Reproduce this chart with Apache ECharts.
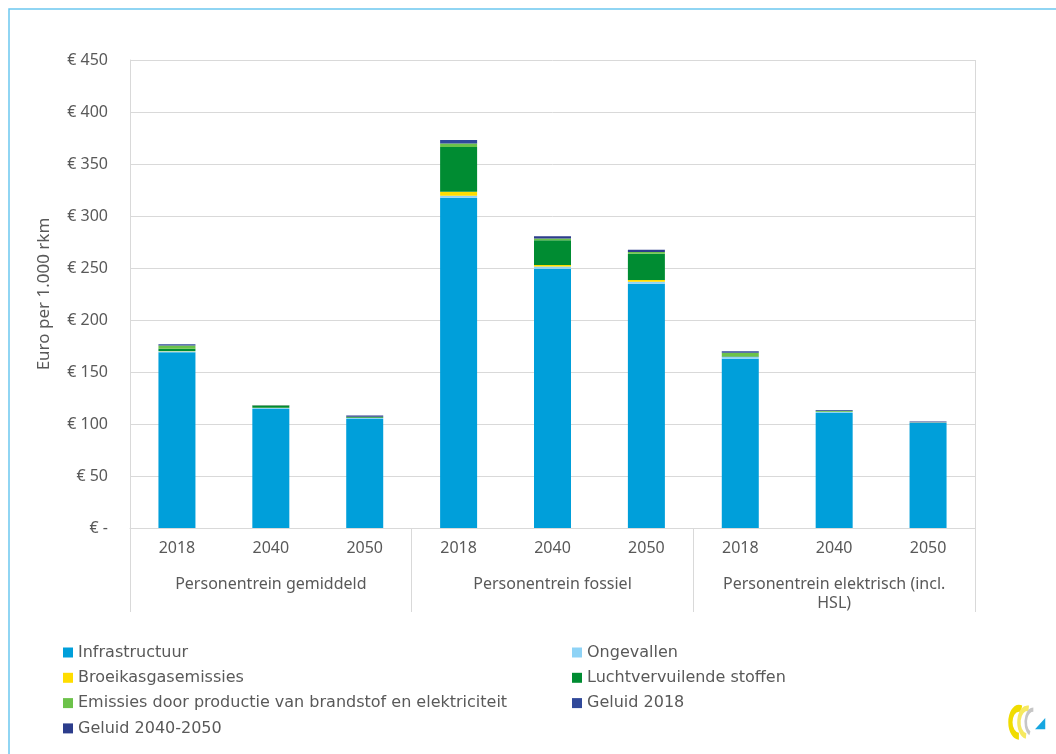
<!DOCTYPE html>
<html>
<head>
<meta charset="utf-8">
<script src="https://cdn.jsdelivr.net/npm/echarts@6/dist/echarts.min.js"></script>
<style>
  html, body { margin: 0; padding: 0; background: #ffffff; }
  #chart { width: 1056px; height: 754px; }
</style>
</head>
<body>
<div id="chart"></div>
<script>
// Kosten per 1.000 reizigerskilometer, per treintype en zichtjaar
const years = ['2018', '2040', '2050', '2018', '2040', '2050', '2018', '2040', '2050'];
const groups = ['Personentrein gemiddeld', 'Personentrein fossiel', 'Personentrein elektrisch (incl.\nHSL)'];
const yTicks = [0, 50, 100, 150, 200, 250, 300, 350, 400, 450];

const infrastructuur = [169, 114.5, 104.8, 317.6, 249.3, 234.9, 162.8, 110.6, 101];
const ongevallen = [1.0, 1.0, 0.9, 1.9, 2.2, 1.9, 1.9, 1.0, 0.4];
const broeikasgas = [0.3, 0.1, 0.1, 3.8, 1.3, 1.6, 0.1, 0, 0];
const luchtvervuilend = [2.0, 2.0, 0.6, 43.0, 24.0, 25.3, 0.5, 0.1, 0];
const emissiesProductie = [3.3, 0.5, 0.6, 3.5, 1.6, 1.6, 3.2, 1.0, 0.3];
const geluid2018 = [1.2, null, null, 3.2, null, null, 1.5, null, null];
const geluid20402050 = [null, 0.2, 1.1, null, 2.2, 2.2, null, 0.8, 0.6];

const seriesDefs = [
  { name: 'Infrastructuur', data: infrastructuur, color: '#009fda' },
  { name: 'Ongevallen', data: ongevallen, color: '#8ed3f6' },
  { name: 'Broeikasgasemissies', data: broeikasgas, color: '#ffdd00' },
  { name: 'Luchtvervuilende stoffen', data: luchtvervuilend, color: '#008c32' },
  { name: 'Emissies door productie van brandstof en elektriciteit', data: emissiesProductie, color: '#6cc24a' },
  { name: 'Geluid 2018', data: geluid2018, color: '#30499a' },
  { name: 'Geluid 2040-2050', data: geluid20402050, color: '#2c3d8c' }
];

const textColor = '#595959';
const lineColor = '#d9d9d9';
const font = 'Noto Sans';

const chart = echarts.init(document.getElementById('chart'), null, { renderer: 'canvas' });

const legendText = { color: textColor, fontSize: 16, fontFamily: 'DejaVu Sans', lineHeight: 17 };

chart.setOption({
  backgroundColor: '#ffffff',
  animation: false,
  grid: { left: 130, right: 81, top: 60, bottom: 226, containLabel: false },
  legend: [
    {
      orient: 'vertical', left: 58, top: 639, itemGap: 8.3,
      itemWidth: 10, itemHeight: 10, icon: 'rect', textStyle: legendText,
      data: ['Infrastructuur', 'Broeikasgasemissies', 'Emissies door productie van brandstof en elektriciteit', 'Geluid 2040-2050']
    },
    {
      orient: 'vertical', left: 567, top: 639, itemGap: 8.3,
      itemWidth: 10, itemHeight: 10, icon: 'rect', textStyle: legendText,
      data: ['Ongevallen', 'Luchtvervuilende stoffen', 'Geluid 2018']
    }
  ],
  xAxis: [
    {
      type: 'category', data: years, position: 'bottom',
      axisLine: { show: true, lineStyle: { color: lineColor, width: 1 } },
      axisTick: { show: false },
      axisLabel: { color: textColor, fontSize: 16, fontFamily: font, margin: 12, interval: 0 }
    },
    {
      type: 'category', data: groups, position: 'bottom', offset: 0,
      axisLine: { show: false },
      axisTick: { show: true, interval: 0, length: 84, lineStyle: { color: lineColor, width: 1 } },
      axisLabel: { color: textColor, fontSize: 16, fontFamily: font, margin: 47, lineHeight: 19, interval: 0, hideOverlap: false }
    }
  ],
  yAxis: {
    type: 'value', min: 0, max: 450, interval: 50,
    name: 'Euro per 1.000 rkm', nameLocation: 'middle', nameGap: 77, nameRotate: 90,
    nameTextStyle: { color: textColor, fontSize: 17, fontFamily: font },
    axisLine: { show: true, lineStyle: { color: lineColor, width: 1 } },
    axisTick: { show: false },
    splitLine: { show: true, lineStyle: { color: lineColor, width: 1 } },
    axisLabel: {
      color: textColor, fontSize: 16, fontFamily: font, margin: 22,
      customValues: yTicks,
      formatter: v => (v === 0 ? '€ -' : '€ ' + v)
    }
  },
  series: seriesDefs.map(s => ({
    name: s.name, type: 'bar', stack: 'kosten', data: s.data,
    barWidth: 37, itemStyle: { color: s.color }, xAxisIndex: 0
  })),
  graphic: [
    {
      type: 'rect', silent: true, z: -1,
      shape: { x: 9, y: 9, width: 1100, height: 800 },
      style: { fill: null, stroke: '#6cc8ef', lineWidth: 1.5 }
    },
    {
      type: 'line', silent: true,
      shape: { x1: 975.5, y1: 60, x2: 975.5, y2: 528 },
      style: { stroke: lineColor, lineWidth: 1 }
    },
    // logo
    {
      type: 'group', x: 1007, y: 704, scaleX: 0.85, scaleY: 1.4,
      children: [
        { type: 'arc', shape: { cx: 14, cy: 13, r: 10, startAngle: Math.PI * 0.5, endAngle: Math.PI * 1.6 },
          style: { stroke: '#f0dc00', lineWidth: 5, fill: null } },
        { type: 'arc', shape: { cx: 24, cy: 13, r: 10, startAngle: Math.PI * 0.55, endAngle: Math.PI * 1.55 },
          style: { stroke: '#f6e960', lineWidth: 4, fill: null } },
        { type: 'arc', shape: { cx: 31, cy: 13, r: 9, startAngle: Math.PI * 0.65, endAngle: Math.PI * 1.5 },
          style: { stroke: '#c6c6c6', lineWidth: 3, fill: null } },
        { type: 'polygon', shape: { points: [[33, 18], [45, 10], [45, 18]] },
          style: { fill: '#17a6e0' } }
      ]
    }
  ]
});
</script>
</body>
</html>
